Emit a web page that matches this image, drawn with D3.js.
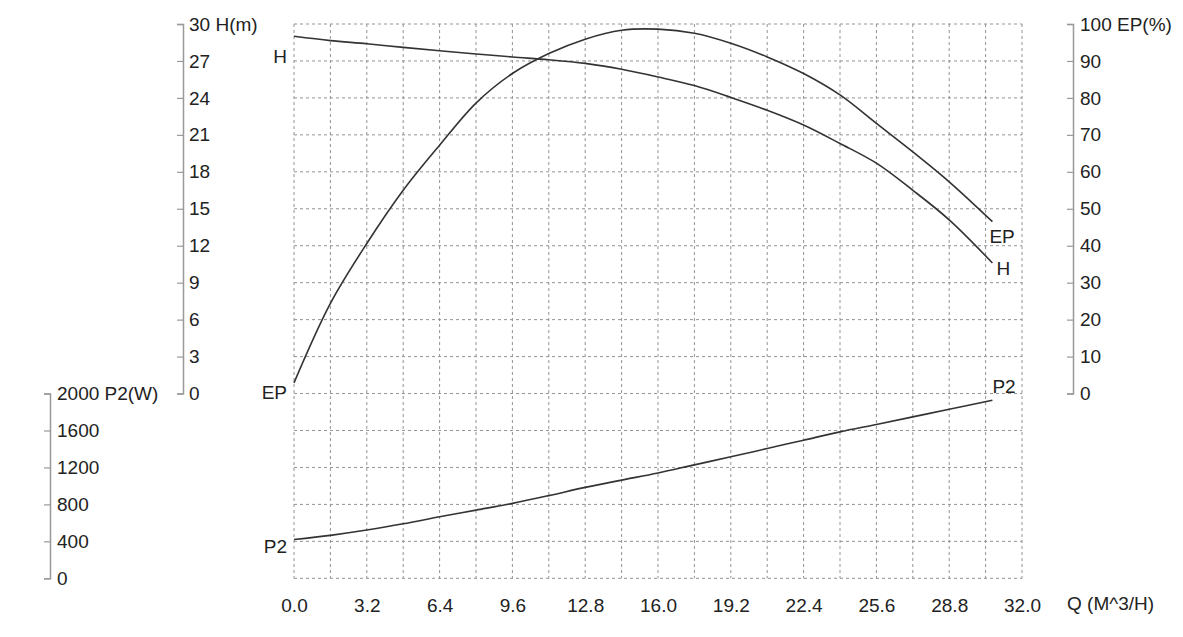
<!DOCTYPE html>
<html>
<head>
<meta charset="utf-8">
<script src="https://cdn.jsdelivr.net/npm/d3@7"></script>
<style>
  body { margin: 0; background: #fff; }
  text { font-family: "Liberation Sans", Arial, Helvetica, sans-serif; fill: #222; }
</style>
</head>
<body>
<div id="chart-area"></div>
<script>
// --- Data ---
var flowQ   = [0, 1.6, 3.2, 4.8, 6.4, 8.0, 9.6, 11.2, 12.8, 14.4, 16.0, 17.6, 19.2, 20.8, 22.4, 24.0, 25.6, 27.2, 28.8, 30.7];
var headH   = [29.0, 28.65, 28.4, 28.1, 27.83, 27.57, 27.32, 27.1, 26.8, 26.32, 25.7, 25.0, 24.04, 23.0, 21.8, 20.3, 18.7, 16.5, 14.1, 10.6];
var effEP   = [2.9, 24.4, 40.6, 55.0, 67.2, 78.6, 86.6, 92.0, 95.9, 98.3, 98.6, 97.5, 94.8, 91.1, 86.6, 80.8, 73.1, 65.4, 57.3, 46.5];
var powerP2 = [420, 465, 522, 590, 666, 738, 811, 895, 984, 1063, 1140, 1228, 1315, 1405, 1495, 1585, 1665, 1747, 1830, 1928];

var qTicks  = [0, 3.2, 6.4, 9.6, 12.8, 16.0, 19.2, 22.4, 25.6, 28.8, 32.0];
var hTicks  = [0, 3, 6, 9, 12, 15, 18, 21, 24, 27, 30];
var epTicks = [0, 10, 20, 30, 40, 50, 60, 70, 80, 90, 100];
var p2Ticks = [0, 400, 800, 1200, 1600, 2000];

// --- Canvas ---
var canvasWidth = 1183;
var canvasHeight = 637;
var canvas = d3.select("#chart-area").append("svg")
  .attr("width", canvasWidth)
  .attr("height", canvasHeight);

var fontSize = 19;
var plotLeft = 294, plotRight = 1022, plotTop = 24, plotBottom = 578.3;
var rowH = (plotBottom - plotTop) / 15;
var hBottom = plotTop + rowH * 10;

// --- Scales ---
var xScale = d3.scaleLinear().domain([0, 32]).range([plotLeft, plotRight]);
var yH  = d3.scaleLinear().domain([0, 30]).range([hBottom, plotTop]);
var yEP = d3.scaleLinear().domain([0, 100]).range([hBottom, plotTop]);
var yP2 = d3.scaleLinear().domain([0, 2000]).range([plotBottom, hBottom]);

// --- Grid ---
var grid = canvas.append("g").attr("class", "grid")
  .attr("stroke", "#939393")
  .attr("stroke-width", 1)
  .attr("stroke-dasharray", "3,3");

var gridQ = d3.range(0, 21).map(function(i) { return i * 1.6; });
grid.selectAll("line.v").data(gridQ).enter().append("line")
  .attr("class", "v")
  .attr("x1", function(d) { return xScale(d); })
  .attr("x2", function(d) { return xScale(d); })
  .attr("y1", plotTop)
  .attr("y2", plotBottom);

var gridY = hTicks.map(function(d) { return yH(d); })
  .concat(p2Ticks.slice(0, 5).map(function(d) { return yP2(d); }));
grid.selectAll("line.h").data(gridY).enter().append("line")
  .attr("class", "h")
  .attr("x1", plotLeft)
  .attr("x2", plotRight)
  .attr("y1", function(d) { return d; })
  .attr("y2", function(d) { return d; });

// --- Axes ---
function styleAxis(g, labelX) {
  g.select(".domain").attr("stroke", "#999").attr("stroke-width", 1.5);
  g.selectAll(".tick line").attr("stroke", "#999").attr("stroke-width", 1.2);
  g.selectAll(".tick text")
    .attr("x", labelX)
    .attr("text-anchor", "start")
    .attr("fill", "#222")
    .style("font-size", fontSize + "px")
    .style("font-family", "'Liberation Sans', Arial, sans-serif");
}

var hAxis = d3.axisLeft(yH).tickValues(hTicks).tickSize(6).tickSizeOuter(6)
  .tickFormat(function(d) { return d === 30 ? "30 H(m)" : d; });
var hAxisGroup = canvas.append("g")
  .attr("transform", "translate(183,0)")
  .call(hAxis);
styleAxis(hAxisGroup, 6);

var epAxis = d3.axisLeft(yEP).tickValues(epTicks).tickSize(6).tickSizeOuter(6)
  .tickFormat(function(d) { return d === 100 ? "100 EP(%)" : d; });
var epAxisGroup = canvas.append("g")
  .attr("transform", "translate(1073,0)")
  .call(epAxis);
styleAxis(epAxisGroup, 7);

var p2Axis = d3.axisLeft(yP2).tickValues(p2Ticks).tickSize(6).tickSizeOuter(6)
  .tickFormat(function(d) { return d === 2000 ? "2000 P2(W)" : d; });
var p2AxisGroup = canvas.append("g")
  .attr("transform", "translate(50,0)")
  .call(p2Axis);
styleAxis(p2AxisGroup, 7);

// x axis labels only
var xAxis = d3.axisBottom(xScale).tickValues(qTicks).tickSize(0).tickPadding(20)
  .tickFormat(d3.format(".1f"));
var xAxisGroup = canvas.append("g")
  .attr("transform", "translate(0," + plotBottom + ")")
  .call(xAxis);
xAxisGroup.select(".domain").remove();
xAxisGroup.selectAll(".tick text")
  .attr("fill", "#222")
  .style("font-size", fontSize + "px")
  .style("font-family", "'Liberation Sans', Arial, sans-serif");

canvas.append("text")
  .text("Q (M^3/H)")
  .attr("x", 1067)
  .attr("y", 610)
  .style("font-size", fontSize + "px");

// --- Curves ---
function series(values) {
  return flowQ.map(function(q, i) { return {q: q, v: values[i]}; });
}

var curves = [
  {name: "H",  values: headH,   y: yH,  left: [287, 63.3],  right: [4, 12]},
  {name: "EP", values: effEP,   y: yEP, left: [287, 399],   right: [-3, 21]},
  {name: "P2", values: powerP2, y: yP2, left: [287, 552.7], right: [0, -7]}
];

curves.forEach(function(c) {
  var line = d3.line()
    .x(function(d) { return xScale(d.q); })
    .y(function(d) { return c.y(d.v); })
    .curve(d3.curveCatmullRom.alpha(0.5));

  canvas.append("path")
    .datum(series(c.values))
    .attr("d", line)
    .attr("fill", "none")
    .attr("stroke", "#333")
    .attr("stroke-width", 1.6);

  // label at the start of the curve
  canvas.append("text")
    .text(c.name)
    .attr("x", c.left[0])
    .attr("y", c.left[1])
    .attr("text-anchor", "end")
    .style("font-size", fontSize + "px");

  // label at the end of the curve
  var last = c.values.length - 1;
  canvas.append("text")
    .text(c.name)
    .attr("x", xScale(flowQ[last]) + c.right[0])
    .attr("y", c.y(c.values[last]) + c.right[1])
    .attr("text-anchor", "start")
    .style("font-size", fontSize + "px");
});
</script>
</body>
</html>
